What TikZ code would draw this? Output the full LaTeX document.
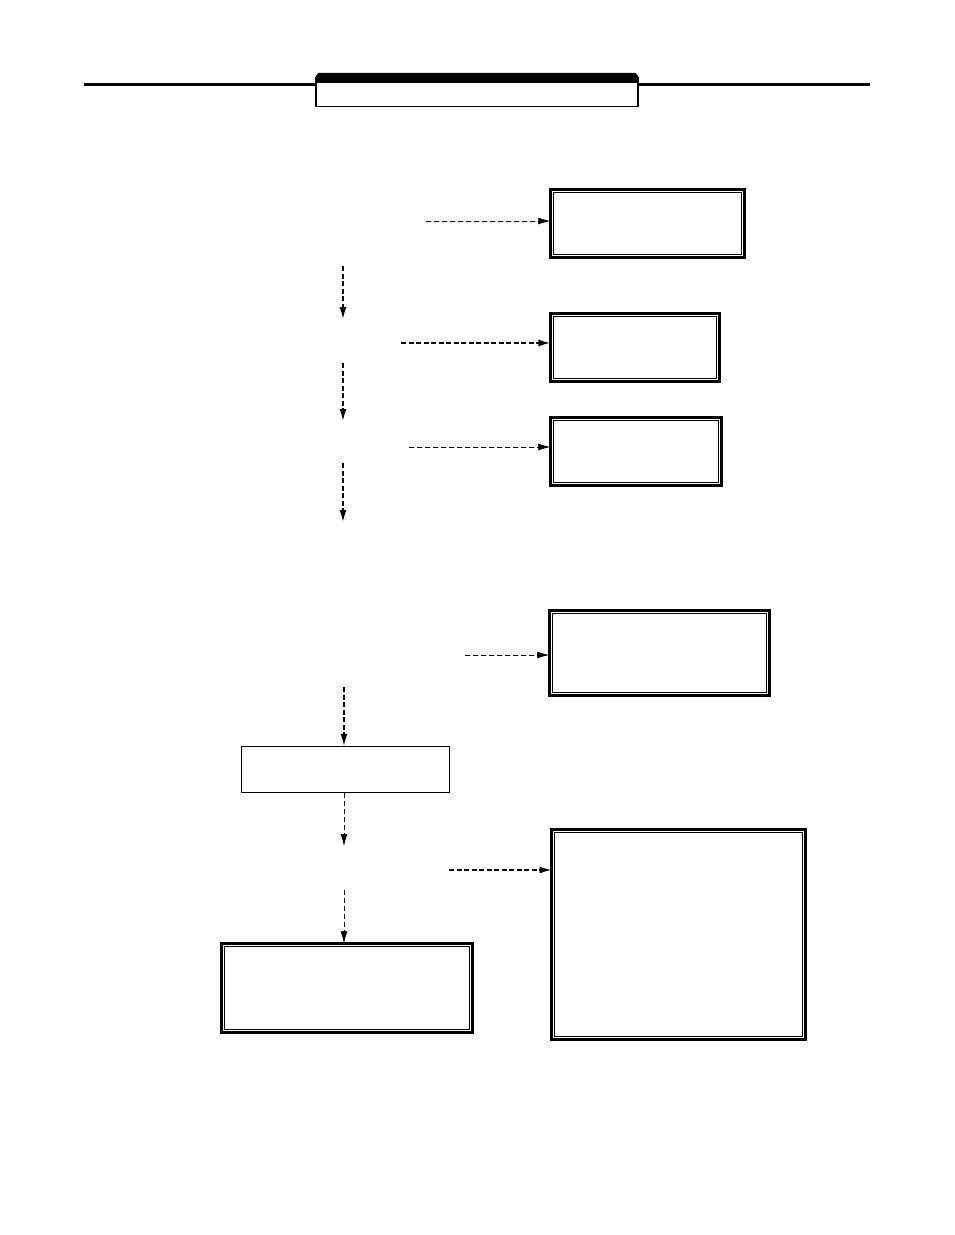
\documentclass[tikz,border=0pt]{standalone}
\usetikzlibrary{arrows.meta}
\begin{document}
\begin{tikzpicture}[x=1pt,y=-1pt]
      \useasboundingbox[fill=white] (0,0) rectangle (954,1235);
      % header
      \draw[line width=2.7pt] (84,84.7) -- (316,84.7);
      \draw[line width=2.7pt] (638,84.7) -- (870,84.7);
      \node[draw,line width=1.2pt,minimum width=322pt,minimum height=29pt,inner sep=0pt] (head) at (477,92) {};
      \fill (head.north west) -- ++(3,-4) -- ([xshift=-3pt,yshift=4pt]head.north east) -- (head.north east) -- ([yshift=-6pt]head.north east) -- ([yshift=-6pt]head.north west) -- cycle;
      \begin{scope}[every node/.style={draw,line width=2.6pt,inner sep=0pt,outer sep=0pt,
          path picture={\draw[line width=1pt] ([shift={(3pt,3pt)}]path picture bounding box.south west) rectangle ([shift={(-3pt,-3pt)}]path picture bounding box.north east);}}]
        \node[minimum width=194.5pt,minimum height=68.5pt] (boxa) at (647.5,223.5) {};
        \node[minimum width=169.5pt,minimum height=68.5pt] (boxb) at (635,347.5) {};
        \node[minimum width=171.5pt,minimum height=68.5pt] (boxc) at (636,451.5) {};
        \node[minimum width=220.5pt,minimum height=85.5pt] (boxd) at (659.5,653) {};
        \node[minimum width=251.5pt,minimum height=89.5pt] (boxg) at (347,988) {};
        \node[minimum width=254pt,minimum height=210pt] (boxh) at (678.5,934.5) {};
      \end{scope}
      \node[draw,line width=1.2pt,minimum width=208pt,minimum height=46pt,inner sep=0pt] (boxe) at (345.5,769.5) {};
      % free ends
      \coordinate (sa) at (426,221);
      \coordinate (sb) at (401,343);
      \coordinate (sc) at (409,447);
      \coordinate (sd) at (465,655);
      \coordinate (sf) at (449,870);
      \coordinate (v1) at (343,266);
      \coordinate (w1) at (343,319);
      \coordinate (v2) at (343,363);
      \coordinate (w2) at (343,421);
      \coordinate (v3) at (343,463);
      \coordinate (w3) at (343,522);
      \coordinate (v4) at (344,687);
      \coordinate (w5) at (344,846);
      \coordinate (v6) at (344,890);
      \begin{scope}[every edge/.style={draw=black,line width=0.8pt,dash pattern=on 5pt off 3pt,
          -{Latex[length=12pt,width=7pt]}},
          heavy/.style={line width=1.6pt,dash pattern=on 5pt off 2.5pt}]
          \path (sa) edge (sa -| boxa.west);
          \path (sb) edge[heavy] (sb -| boxb.west);
          \path (sc) edge (sc -| boxc.west);
          \path (sd) edge (sd -| boxd.west);
          \path (sf) edge[heavy] (sf -| boxh.west);
          \path (v1) edge[heavy] (w1);
          \path (v2) edge[heavy] (w2);
          \path (v3) edge[heavy] (w3);
          \path (v4) edge[heavy] (v4 |- boxe.north);
          \path (boxe.south -| v4) edge (w5);
          \path (v6) edge (v6 |- boxg.north);
      \end{scope}
    \end{tikzpicture}
\end{document}
